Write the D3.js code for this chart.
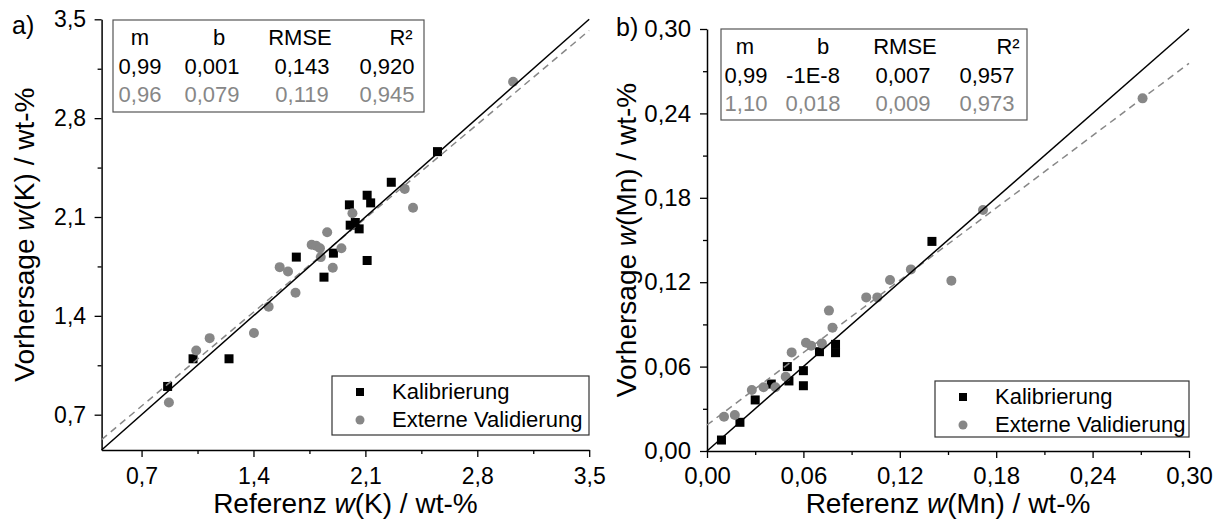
<!DOCTYPE html>
<html>
<head>
<meta charset="utf-8">
<script src="https://cdn.jsdelivr.net/npm/d3@7"></script>
<style>
body { margin: 0; background: #fff; }
</style>
</head>
<body>
<svg id="chart" width="1218" height="520"></svg>
<script>
// panel a) potassium
var kalK_x = [0.863, 1.022, 1.247, 1.668, 1.841, 1.90, 2.0, 2.005, 2.037, 2.061, 2.111, 2.133, 2.111, 2.262, 2.551]
var kalK_y = [0.90, 1.096, 1.096, 1.816, 1.674, 1.844, 2.186, 2.042, 2.061, 2.016, 2.254, 2.20, 1.792, 2.346, 2.563]
var valK_x = [0.871, 1.042, 1.126, 1.403, 1.495, 1.564, 1.616, 1.663, 1.764, 1.792, 1.816, 1.821, 1.861, 1.896, 1.95, 2.019, 2.346, 2.398, 3.024]
var valK_y = [0.787, 1.155, 1.242, 1.278, 1.464, 1.745, 1.714, 1.563, 1.903, 1.896, 1.879, 1.816, 1.992, 1.74, 1.879, 2.127, 2.299, 2.165, 3.058]
var fitK = [0.95, 0.096]   // slope, intercept of the dashed line
var ticksK = [0.7, 1.4, 2.1, 2.8, 3.5]
var minorK = [1.05, 1.75, 2.45, 3.15]
var statsK_kal = ["0,99", "0,001", "0,143", "0,920"]
var statsK_val = ["0,96", "0,079", "0,119", "0,945"]

// panel b) manganese
var kalMn_x = [0.009, 0.0205, 0.030, 0.040, 0.050, 0.051, 0.060, 0.060, 0.070, 0.080, 0.080, 0.140]
var kalMn_y = [0.0078, 0.0204, 0.0363, 0.0476, 0.060, 0.0498, 0.0571, 0.0464, 0.0706, 0.0758, 0.0699, 0.149]
var valMn_x = [0.0106, 0.0173, 0.0279, 0.0352, 0.0426, 0.049, 0.0527, 0.0616, 0.0648, 0.0715, 0.0759, 0.0781, 0.0991, 0.106, 0.1139, 0.1269, 0.1521, 0.1718, 0.2711]
var valMn_y = [0.0244, 0.0256, 0.0434, 0.0453, 0.0453, 0.0528, 0.0701, 0.077, 0.0749, 0.0765, 0.0998, 0.0877, 0.1092, 0.1092, 0.1216, 0.1291, 0.1211, 0.1713, 0.2507]
var fitMn = [0.857, 0.0185]
var ticksMn = [0, 0.06, 0.12, 0.18, 0.24, 0.30]
var minorMn = [0.03, 0.09, 0.15, 0.21, 0.27]
var statsMn_kal = ["0,99", "-1E-8", "0,007", "0,957"]
var statsMn_val = ["1,10", "0,018", "0,009", "0,973"]

var statHeaders = ["m", "b", "RMSE", "R²"]
var legendLabels = ["Kalibrierung", "Externe Validierung"]

var FONT = "Arial, 'Liberation Sans', sans-serif"
var GREY = "#878787"

var svg = d3.select("#chart")

function zip(a, b){ return a.map(function(d, i){ return [d, b[i]] }) }

function drawPanel(p){
    var x = d3.scaleLinear().domain(p.domain).range([p.left, p.right])
    var y = d3.scaleLinear().domain(p.domain).range([p.bottom, p.top])
    var fmt = function(d){ return d3.format(p.fmt)(d).replace(".", ",") }
    var g = svg.append("g")

    // x axis
    g.append("g")
        .attr("transform", "translate(0," + p.bottom + ")")
        .call(d3.axisBottom(x).tickValues(p.ticks).tickSize(7).tickSizeOuter(0)
              .tickPadding(p.xPad).tickFormat(fmt))
    g.append("g")
        .attr("transform", "translate(0," + p.bottom + ")")
        .call(d3.axisBottom(x).tickValues(p.minor).tickSize(4).tickFormat(""))
        .select(".domain").remove()
    // y axis
    g.append("g")
        .attr("transform", "translate(" + p.left + ",0)")
        .call(d3.axisLeft(y).tickValues(p.ticks).tickSize(7).tickSizeOuter(0)
              .tickPadding(p.yPad).tickFormat(fmt))
    g.append("g")
        .attr("transform", "translate(" + p.left + ",0)")
        .call(d3.axisLeft(y).tickValues(p.minor).tickSize(4).tickFormat(""))
        .select(".domain").remove()

    g.selectAll(".domain").attr("stroke", "#000").attr("stroke-width", 1.5)
    g.selectAll(".tick line").attr("stroke", "#000").attr("stroke-width", 1.3)
    g.selectAll(".tick text").attr("font-family", FONT).attr("font-size", p.tickFont).attr("fill", "#000")

    // squares: Kalibrierung
    g.append("g").selectAll("rect")
        .data(zip(p.kx, p.ky))
        .enter()
        .append("rect")
        .attr("x", function(d){ return x(d[0]) - 4.5 })
        .attr("y", function(d){ return y(d[1]) - 4.5 })
        .attr("width", 9)
        .attr("height", 9)
        .attr("fill", "#000")

    // circles: externe Validierung
    g.append("g").selectAll("circle")
        .data(zip(p.vx, p.vy))
        .enter()
        .append("circle")
        .attr("cx", function(d){ return x(d[0]) })
        .attr("cy", function(d){ return y(d[1]) })
        .attr("r", 5)
        .attr("fill", GREY)

    // fit line of validation (dashed)
    var d0 = p.domain[0], d1 = p.domain[1]
    g.append("line")
        .attr("x1", x(d0)).attr("y1", y(p.fit[0] * d0 + p.fit[1]))
        .attr("x2", x(d1)).attr("y2", y(p.fit[0] * d1 + p.fit[1]))
        .attr("stroke", GREY)
        .attr("stroke-width", 1.5)
        .attr("stroke-dasharray", "7,5")
    // 1:1 line
    g.append("line")
        .attr("x1", x(d0)).attr("y1", y(d0))
        .attr("x2", x(d1)).attr("y2", y(d1))
        .attr("stroke", "#000")
        .attr("stroke-width", 1.5)

    // stats table
    var t = p.table
    g.append("rect")
        .attr("x", t.x).attr("y", t.y)
        .attr("width", t.w).attr("height", t.h)
        .attr("fill", "#fff")
        .attr("stroke", "#555")
        .attr("stroke-width", 1.2)
    statHeaders.forEach(function(h, i){
        g.append("text").attr("x", t.x + t.hx[i]).attr("y", t.y + 25)
            .attr("text-anchor", "middle").attr("font-family", FONT)
            .attr("font-size", t.font).attr("fill", "#000").text(h)
    })
    p.statsKal.forEach(function(s, i){
        g.append("text").attr("x", t.x + t.vx[i]).attr("y", t.y + 54)
            .attr("text-anchor", "middle").attr("font-family", FONT)
            .attr("font-size", t.font).attr("fill", "#000").text(s)
    })
    p.statsVal.forEach(function(s, i){
        g.append("text").attr("x", t.x + t.vx[i]).attr("y", t.y + 82)
            .attr("text-anchor", "middle").attr("font-family", FONT)
            .attr("font-size", t.font).attr("fill", GREY).text(s)
    })

    // legend
    var L = p.legend
    g.append("rect")
        .attr("x", L.x).attr("y", L.y)
        .attr("width", L.w).attr("height", L.h)
        .attr("fill", "#fff")
        .attr("stroke", "#333")
        .attr("stroke-width", 1.2)
    g.append("rect")
        .attr("x", L.x + 28 - 4).attr("y", L.y + 16 - 4)
        .attr("width", 8).attr("height", 8)
        .attr("fill", "#000")
    g.append("circle")
        .attr("cx", L.x + 28).attr("cy", L.y + 44)
        .attr("r", 4.5)
        .attr("fill", GREY)
    legendLabels.forEach(function(s, i){
        g.append("text").attr("x", L.x + 60).attr("y", L.y + 23 + i * 28)
            .attr("font-family", FONT).attr("font-size", 22).attr("fill", "#000").text(s)
    })

    // axis titles
    var xt = g.append("text")
        .attr("x", (p.left + p.right) / 2).attr("y", 513)
        .attr("text-anchor", "middle").attr("font-family", FONT).attr("font-size", 28)
    xt.append("tspan").text("Referenz ")
    xt.append("tspan").attr("font-style", "italic").text("w")
    xt.append("tspan").text("(" + p.el + ") / wt-%")

    var yt = g.append("text")
        .attr("transform", "translate(" + p.yTitleX + "," + (p.top + p.bottom) / 2 + ") rotate(-90)")
        .attr("text-anchor", "middle").attr("font-family", FONT).attr("font-size", 28)
    yt.append("tspan").text("Vorhersage ")
    yt.append("tspan").attr("font-style", "italic").text("w")
    yt.append("tspan").text("(" + p.el + ") / wt-%")

    // panel letter
    g.append("text")
        .attr("x", p.letterX).attr("y", p.letterY)
        .attr("font-family", FONT).attr("font-size", 25)
        .text(p.letter)
}

drawPanel({
    domain: [0.45, 3.5], left: 101.6, right: 589.2, top: 19.3, bottom: 450,
    ticks: ticksK, minor: minorK, fmt: ".1f", xPad: 10.5, yPad: 8.5, tickFont: 23,
    kx: kalK_x, ky: kalK_y, vx: valK_x, vy: valK_y, fit: fitK,
    statsKal: statsK_kal, statsVal: statsK_val,
    table: {x: 113, y: 20, w: 311, h: 92, font: 22,
            hx: [27, 106, 187, 288], vx: [27, 99, 189, 274]},
    legend: {x: 332, y: 376, w: 257, h: 59},
    el: "K", yTitleX: 33.5, letter: "a)", letterX: 12, letterY: 34
})

drawPanel({
    domain: [0, 0.30], left: 707, right: 1189, top: 29, bottom: 451,
    ticks: ticksMn, minor: minorMn, fmt: ".2f", xPad: 8.5, yPad: 9, tickFont: 24,
    kx: kalMn_x, ky: kalMn_y, vx: valMn_x, vy: valMn_y, fit: fitMn,
    statsKal: statsMn_kal, statsVal: statsMn_val,
    table: {x: 721, y: 29, w: 306, h: 91, font: 22,
            hx: [24, 102, 184, 287], vx: [25, 92, 182, 266]},
    legend: {x: 935, y: 381, w: 254, h: 56},
    el: "Mn", yTitleX: 636, letter: "b)", letterX: 616, letterY: 36
})
</script>
</body>
</html>
